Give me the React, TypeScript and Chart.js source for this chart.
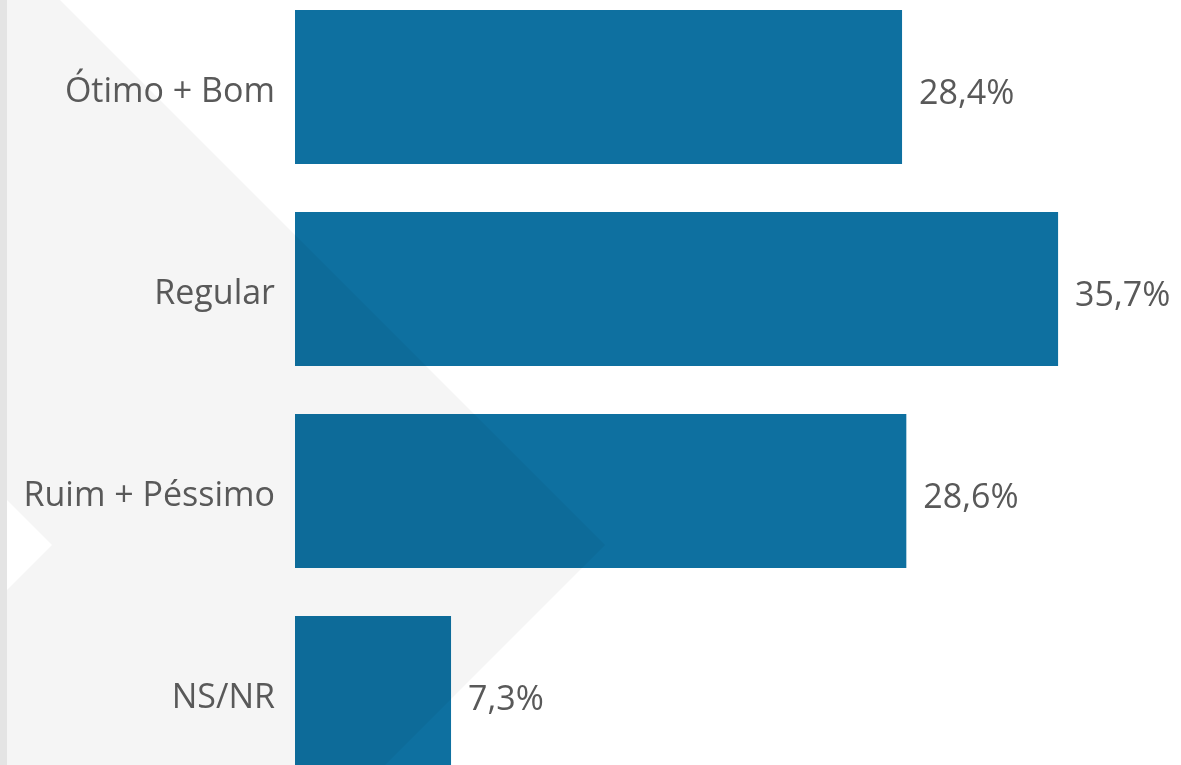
import React, { useEffect, useRef } from "react";
import { Chart, registerables } from "chart.js";

Chart.register(...registerables);

const categories = ["Ótimo + Bom", "Regular", "Ruim + Péssimo", "NS/NR"];
const values = [28.4, 35.7, 28.6, 7.3];

const BAR_COLOR = "#0e70a0";
const TEXT_COLOR = "#595959";
const FONT_FAMILY = "'Open Sans', 'Noto Sans', sans-serif";
const FONT_SIZE = 34;
const OFFSET_Y = -14; // canvas top relative to page

function chevronPath(ctx: CanvasRenderingContext2D) {
  const oy = -OFFSET_Y;
  ctx.beginPath();
  ctx.moveTo(0, 0);
  ctx.lineTo(60 - oy, 0);
  ctx.lineTo(605, 545 + oy);
  ctx.lineTo(1150 - 800, 800 + oy);
  ctx.lineTo(0, 800 + oy);
  ctx.closePath();
}

const backgroundPlugin = {
  id: "bgChevron",
  beforeDraw(chart: any) {
    const ctx: CanvasRenderingContext2D = chart.ctx;
    const oy = -OFFSET_Y;
    ctx.save();
    ctx.fillStyle = "#ffffff";
    ctx.fillRect(0, 0, chart.width, chart.height);
    ctx.fillStyle = "#f5f5f5";
    chevronPath(ctx);
    ctx.fill();
    ctx.fillStyle = "#ffffff";
    ctx.beginPath();
    ctx.moveTo(0, 493 + oy);
    ctx.lineTo(52, 545 + oy);
    ctx.lineTo(0, 597 + oy);
    ctx.closePath();
    ctx.fill();
    ctx.fillStyle = "#e4e4e4";
    ctx.fillRect(0, 0, 7, chart.height);
    ctx.restore();
  },
};

const overlayPlugin = {
  id: "barOverlay",
  afterDatasetsDraw(chart: any) {
    const ctx: CanvasRenderingContext2D = chart.ctx;
    const meta = chart.getDatasetMeta(0);
    ctx.save();
    meta.data.forEach((bar: any, i: number) => {
      const { x, y, base, height } = bar.getProps(["x", "y", "base", "height"], true);
      ctx.save();
      ctx.beginPath();
      ctx.rect(base, y - height / 2, x - base, height);
      ctx.clip();
      ctx.fillStyle = "rgba(0,0,0,0.04)";
      chevronPath(ctx);
      ctx.fill();
      ctx.restore();
      const v = values[i];
      ctx.fillStyle = TEXT_COLOR;
      ctx.font = `${FONT_SIZE}px ${FONT_FAMILY}`;
      ctx.textAlign = "left";
      ctx.textBaseline = "middle";
      ctx.fillText(v.toFixed(1).replace(".", ",") + "%", x + 17, y + 7);
    });
    ctx.restore();
  },
};

export default function App() {
  const ref = useRef<HTMLCanvasElement | null>(null);
  useEffect(() => {
    if (!ref.current) return;
    const chart = new Chart(ref.current, {
      type: "bar",
      data: {
        labels: categories,
        datasets: [
          {
            data: values,
            backgroundColor: BAR_COLOR,
            borderWidth: 0,
            categoryPercentage: 1,
            barPercentage: 0.762,
          },
        ],
      },
      options: {
        indexAxis: "y",
        responsive: false,
        animation: false,
        devicePixelRatio: 1,
        layout: { padding: { left: 0, right: 31, top: 0, bottom: 0 } },
        plugins: { legend: { display: false }, tooltip: { enabled: false } },
        scales: {
          x: { display: false, min: 0, max: 40 },
          y: {
            grid: { display: false, drawTicks: false },
            border: { display: false },
            ticks: {
              color: TEXT_COLOR,
              padding: 20,
              labelOffset: 5,
              font: { family: FONT_FAMILY, size: FONT_SIZE },
            },
            afterFit(scale: any) {
              scale.width = 295;
              scale.paddingTop = 0;
              scale.paddingBottom = 0;
            },
          },
        },
      },
      plugins: [backgroundPlugin, overlayPlugin],
    });
    return () => chart.destroy();
  }, []);
  return (
    <div style={{ position: "fixed", left: 0, top: 0, width: 1181, height: 765, overflow: "hidden", background: "#fff" }}>
      <canvas ref={ref} width={1181} height={808} style={{ position: "absolute", left: 0, top: OFFSET_Y, width: 1181, height: 808 }} />
    </div>
  );
}
